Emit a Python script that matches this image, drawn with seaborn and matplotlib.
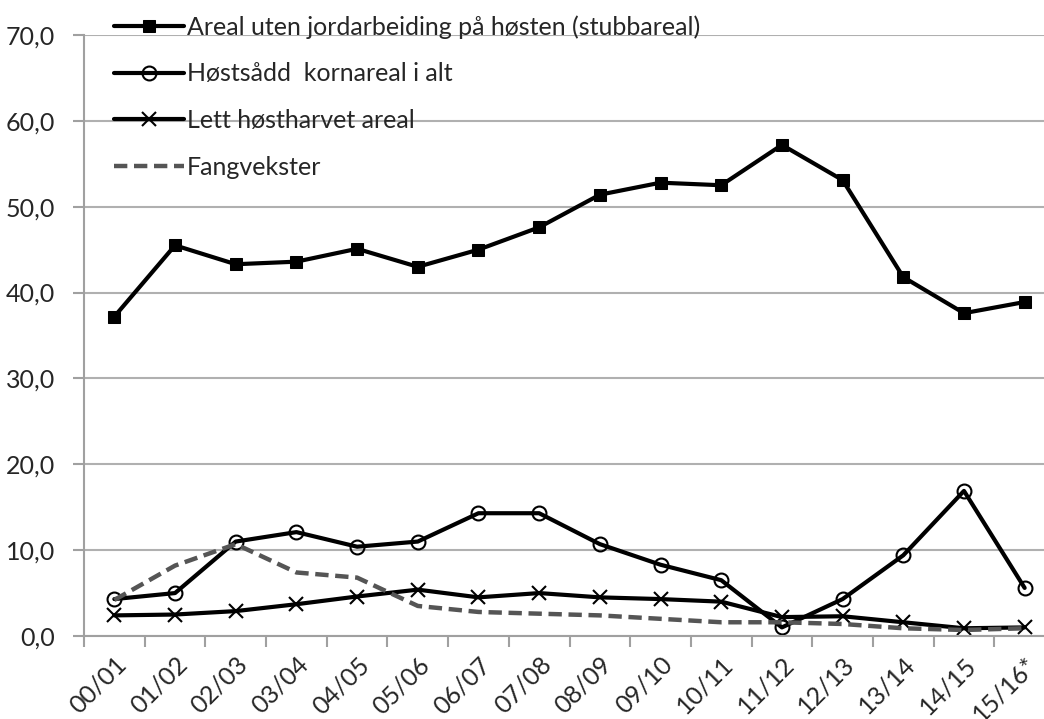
import numpy as np
import pandas as pd
import matplotlib
matplotlib.use('Agg')
import matplotlib.pyplot as plt
import seaborn as sns

sns.set_style('white')
plt.rcParams['font.family'] = ['Lato', 'DejaVu Sans']

# ------------------------------------------------------------
# Data
# ------------------------------------------------------------
seasons = ['00/01', '01/02', '02/03', '03/04', '04/05', '05/06', '06/07', '07/08',
           '08/09', '09/10', '10/11', '11/12', '12/13', '13/14', '14/15', '15/16*']

stubbareal = [37.2, 45.5, 43.3, 43.6, 45.1, 43.0, 45.0, 47.6,
              51.4, 52.8, 52.5, 57.2, 53.1, 41.8, 37.6, 38.9]
hostsadd = [4.3, 5.0, 11.0, 12.1, 10.4, 11.0, 14.3, 14.3,
            10.7, 8.3, 6.5, 1.0, 4.3, 9.4, 16.9, 5.6]
lett_harvet = [2.4, 2.5, 2.9, 3.7, 4.6, 5.4, 4.5, 5.0,
               4.5, 4.3, 4.0, 2.2, 2.3, 1.6, 0.9, 1.0]
fangvekster = [4.2, 8.2, 10.7, 7.4, 6.8, 3.5, 2.8, 2.6,
               2.4, 2.0, 1.6, 1.6, 1.4, 0.9, 0.7, 0.9]

labels = ['Areal uten jordarbeiding på høsten (stubbareal)',
          'Høstsådd  kornareal i alt',
          'Lett høstharvet areal',
          'Fangvekster']

df = pd.DataFrame({'pos': np.arange(len(seasons)), 'season': seasons})

# ------------------------------------------------------------
# Figure
# ------------------------------------------------------------
fig = plt.figure(figsize=(10.44, 7.19), dpi=100)
ax = fig.add_axes([84 / 1044, 1 - 636 / 719, (1055 - 84) / 1044, (636 - 35) / 719])

sns.lineplot(x=df['pos'], y=stubbareal, ax=ax, color='black', linewidth=3,
             marker='s', markersize=9, markerfacecolor='black',
             markeredgecolor='black', label=labels[0])
sns.lineplot(x=df['pos'], y=hostsadd, ax=ax, color='black', linewidth=3,
             marker='o', markersize=10, markerfacecolor='none',
             markeredgecolor='black', markeredgewidth=1.5, label=labels[1])
sns.lineplot(x=df['pos'], y=lett_harvet, ax=ax, color='black', linewidth=3,
             marker='x', markersize=10, markeredgecolor='black',
             markeredgewidth=1.5, label=labels[2])
sns.lineplot(x=df['pos'], y=fangvekster, ax=ax, color='#555555', linewidth=3.2,
             linestyle=(0, (3, 1.5)), label=labels[3])

ax.set_xlim(-0.5, len(seasons) - 0.5)
ax.set_ylim(0, 70)
ax.set_yticks(np.arange(0, 71, 10))
ax.set_yticklabels([f'{v:.1f}'.replace('.', ',') for v in np.arange(0, 71, 10)],
                   fontsize=18)
ax.set_xticks(df['pos'])
ax.set_xticklabels(seasons, rotation=45, ha='right', rotation_mode='anchor',
                   fontsize=18)
ax.set_xticks(np.arange(-0.5, len(seasons), 1), minor=True)
ax.tick_params(axis='x', which='major', length=0, pad=12)
ax.tick_params(axis='x', which='minor', length=8, color='#a0a0a0', width=1.5,
               direction='out', bottom=True)
ax.tick_params(axis='y', length=8, color='#a0a0a0', width=1.5, pad=13, left=True)

ax.grid(axis='y', color='#b0b0b0', linewidth=1.5)
ax.set_axisbelow(True)
for side in ['top', 'right']:
    ax.spines[side].set_visible(False)
for side in ['left', 'bottom']:
    ax.spines[side].set_color('#a0a0a0')
    ax.spines[side].set_linewidth(1.5)

ax.set_xlabel('')
ax.set_ylabel('')

leg = ax.legend(loc='upper left', bbox_to_anchor=(0.021, 1.05), frameon=False,
                fontsize=18, labelspacing=0.95, handlelength=2.8,
                handletextpad=0.1, borderaxespad=0)

fig.savefig('out.png', dpi=100)
